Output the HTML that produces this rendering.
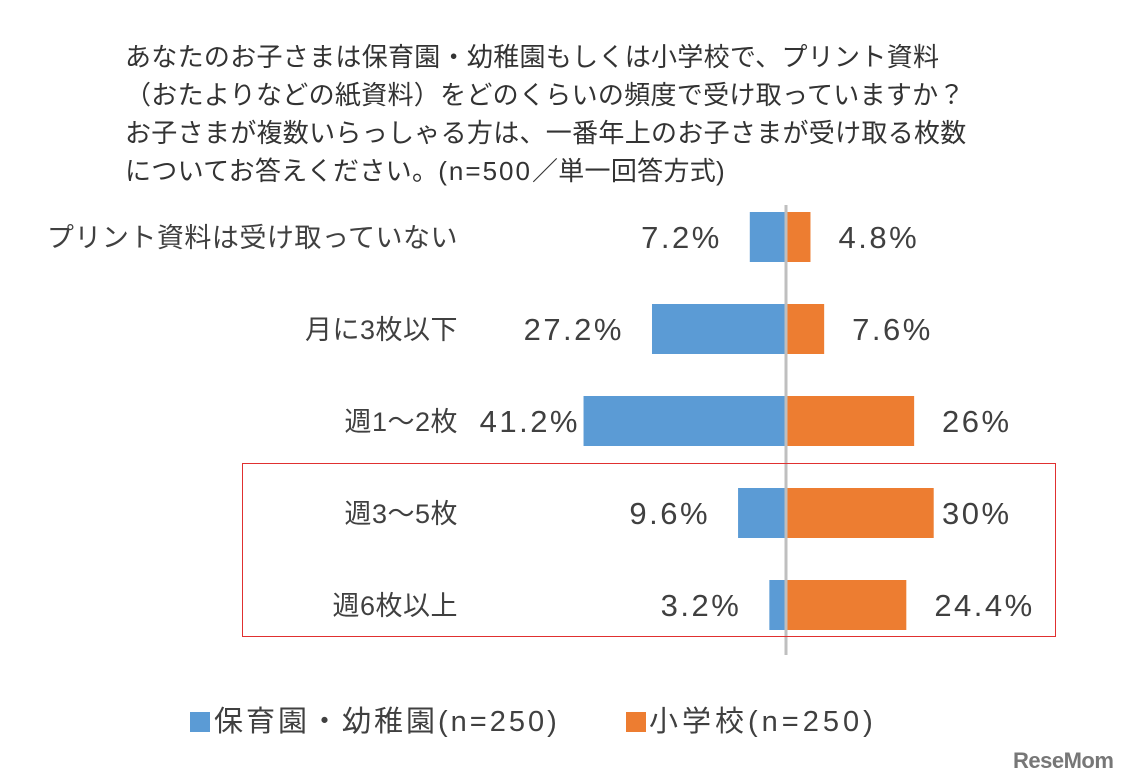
<!DOCTYPE html>
<html><head><meta charset="utf-8">
<style>
body{margin:0;background:#fff;}
#wrap{position:relative;width:1124px;height:784px;overflow:hidden;font-family:"Liberation Sans","Noto Sans CJK JP",sans-serif;color:#404040;}
.t{position:absolute;white-space:nowrap;}
</style></head><body>
<div id="wrap">
<div class="t" style="left:125px;top:38px;font-size:26px;line-height:38px;letter-spacing:0.3px;color:#333;">あなたのお子さまは保育園・幼稚園もしくは小学校で、プリント資料<br>（おたよりなどの紙資料）をどのくらいの頻度で受け取っていますか？<br>お子さまが複数いらっしゃる方は、一番年上のお子さまが受け取る枚数<br>についてお答えください。<span style="letter-spacing:2px">(n=500</span>／単一回答方式)</div>
<svg id="svg" width="1124" height="784" style="position:absolute;left:0;top:0"></svg>
<div style="position:absolute;left:242px;top:463px;width:812px;height:172px;border:1px solid #e03030;"></div>
<div class="t" style="left:190px;top:698px;font-size:29px;letter-spacing:3px;"><span style="display:inline-block;width:20px;height:20px;background:#5b9bd5;margin-right:4px;vertical-align:-1px"></span>保育園・幼稚園(n=250)</div>
<div class="t" style="left:626px;top:698px;font-size:29px;letter-spacing:4px;"><span style="display:inline-block;width:20px;height:20px;background:#ed7d31;margin-right:3px;vertical-align:-1px"></span>小学校(n=250)</div>
<div class="t" style="left:1013px;top:748px;font-size:22px;font-weight:bold;color:#777;letter-spacing:-0.5px;">ReseMom</div>
</div>
<script>
const categories=["プリント資料は受け取っていない","月に3枚以下","週1～2枚","週3～5枚","週6枚以上"];
const nursery=[7.2,27.2,41.2,9.6,3.2];
const school=[4.8,7.6,26,30,24.4];
const nurseryLabels=["7.2%","27.2%","41.2%","9.6%","3.2%"];
const schoolLabels=["4.8%","7.6%","26%","30%","24.4%"];
const svg=document.getElementById('svg');const NS='http://www.w3.org/2000/svg';
const cx=785,k=4.89;
const xL=v=>cx-v*k, xR=v=>cx+2+v*k, yC=i=>237+i*92;
function mk(t,a){const e=document.createElementNS(NS,t);for(const q in a)e.setAttribute(q,a[q]);svg.appendChild(e);return e;}
categories.forEach((c,i)=>{
 const y=yC(i);
 let r=mk('rect',{x:xL(nursery[i]),y:y-25,width:cx-xL(nursery[i]),height:50,fill:'#5b9bd5'});
 
 r=mk('rect',{x:cx+2,y:y-25,width:xR(school[i])-cx-2,height:50,fill:'#ed7d31'});
 
 let t=mk('text',{x:458,y:y+10,'text-anchor':'end','font-size':27,'letter-spacing':0.5,fill:'#404040'});t.textContent=c;
 
 t=mk('text',{x:Math.max(xL(nursery[i])-30,578)+2,y:y+11,'text-anchor':'end','font-size':31,'letter-spacing':2.5,fill:'#404040'});t.textContent=nurseryLabels[i];
 
 t=mk('text',{x:Math.min(xR(school[i])+28,942),y:y+11,'font-size':31,'letter-spacing':2.5,fill:'#404040'});t.textContent=schoolLabels[i];
 
});
const ax=mk('line',{x1:786,x2:786,y1:205,y2:655,stroke:'#bfbfbf','stroke-width':3});

</script>
</body></html>
